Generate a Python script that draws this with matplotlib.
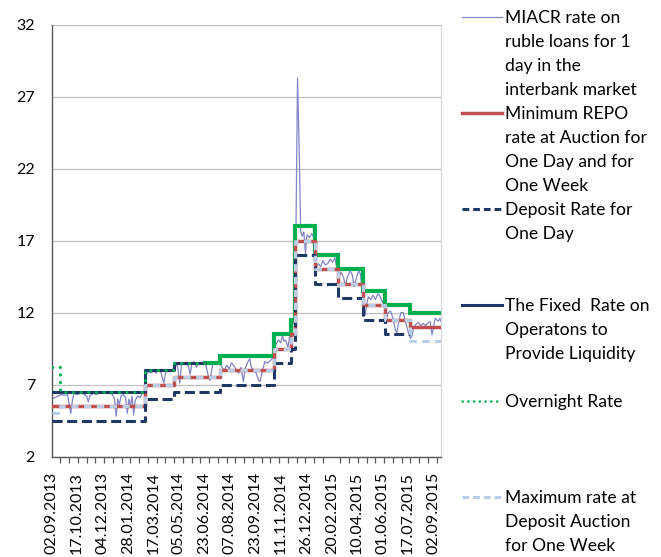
import matplotlib
matplotlib.use("Agg")
import matplotlib.pyplot as plt
from matplotlib.lines import Line2D

# ---------------- data ----------------
# x axis = trading-day index on the category axis
x_tick_labels = ["02.09.2013", "17.10.2013", "04.12.2013", "28.01.2014", "17.03.2014",
                 "05.05.2014", "23.06.2014", "07.08.2014", "23.09.2014", "11.11.2014",
                 "26.12.2014", "20.02.2015", "10.04.2015", "01.06.2015", "17.07.2015",
                 "02.09.2015"]
label_step = 32
minor_step = 11
last_day = 489
y_ticks = [2, 7, 12, 17, 22, 27, 32]

# MIACR (thin line)
miacr_idx = [0, 4, 8, 12, 16, 20, 22, 24, 26, 28, 32, 36, 40, 44, 46, 48, 52, 56, 60, 64, 68, 72,
             76, 79, 81, 83, 85, 87, 90, 93, 95, 97, 99, 101, 103, 105, 108, 111, 114, 117,
             119, 122, 125, 128, 131, 134, 137, 139, 141, 143, 146, 149, 152,
             155, 158, 161, 163, 166, 169, 172, 174, 176, 179, 182, 185, 188, 191, 194, 197,
             199, 202, 205, 208, 211,
             214, 217, 220, 223, 226, 229, 232, 235, 238, 241, 243, 246, 249, 251, 254, 257,
             260, 262, 265, 268, 271, 274, 277,
             280, 282, 285, 288, 290, 292, 294, 297, 299, 301, 303, 305,
             307, 309, 311, 313, 315, 317, 319, 321, 324, 327, 330,
             332, 335, 338, 341, 344, 347, 350, 353, 356, 358,
             361, 364, 367, 369, 372, 375, 378, 380, 383, 386, 388, 390,
             392, 394, 396, 398, 401, 404, 407, 410, 413, 416, 418,
             420, 423, 426, 429, 432, 434, 436, 439, 442, 444, 447, 449, 451,
             453, 455, 458, 461, 464, 467, 470, 473, 476, 478, 480, 482, 484, 486, 488, 489]
miacr_val = [6.0, 6.1, 6.2, 6.3, 6.25, 6.3, 5.6, 5.0, 5.9, 6.4, 6.3, 6.4, 6.35, 6.2, 5.8, 6.2,
             6.4, 6.3, 6.45, 6.4, 6.5, 6.4, 6.35, 6.0, 4.8, 6.0, 5.6, 6.2, 6.3, 6.1, 5.0, 6.0,
             5.5, 6.2, 4.9, 5.9, 6.2, 6.1, 6.4, 6.5,
             7.7, 7.9, 7.8, 7.95, 7.8, 8.0, 7.9, 7.5, 7.1, 7.8, 7.95, 7.9, 8.05,
             8.4, 8.3, 7.1, 8.3, 8.5, 8.4, 8.3, 7.7, 8.4, 8.6, 8.2, 8.5, 8.45, 8.6, 8.3, 7.55,
             7.3, 8.3, 8.5, 8.4, 8.5,
             8.2, 8.0, 8.35, 8.1, 8.5, 8.3, 8.0, 7.8, 8.2, 7.2, 8.1, 8.5, 8.8, 8.2, 8.0, 7.8,
             7.3, 7.2, 8.0, 8.6, 8.5, 8.6, 8.8,
             9.3, 9.8, 10.1, 9.9, 10.4, 10.0, 10.1, 9.6, 10.3, 10.6, 11.2, 11.5,
             17.2, 28.3, 23.6, 17.6, 17.3, 17.6, 16.1, 17.4, 17.2, 17.5, 17.1,
             15.1, 15.4, 15.2, 15.6, 15.3, 15.4, 15.7, 15.5, 15.8, 15.2,
             14.5, 14.8, 14.4, 13.9, 14.5, 14.9, 14.6, 13.8, 14.4, 14.9, 14.7, 13.8,
             12.8, 11.8, 12.6, 13.1, 12.9, 13.2, 12.9, 13.3, 13.1, 12.7, 12.9,
             11.4, 12.0, 12.1, 11.6, 10.8, 10.6, 11.3, 12.0, 12.0, 11.5, 10.9, 10.5, 10.2,
             10.4, 11.0, 11.2, 11.3, 11.1, 11.25, 11.1, 11.3, 11.35, 10.45, 11.0, 11.6, 11.5,
             11.4, 11.6, 11.4]

# Minimum REPO rate (step changes)
repo_idx = [0, 117, 154, 212, 279, 301, 306, 331, 360, 391, 419, 451, 489]
repo_val = [5.5, 7.0, 7.5, 8.0, 9.5, 10.5, 17.0, 15.0, 14.0, 12.5, 11.5, 11.0, 11.0]

# Deposit rate for one day
dep_idx = [0, 117, 154, 212, 279, 301, 306, 331, 360, 391, 419, 451]
dep_val = [4.5, 6.0, 6.5, 7.0, 8.5, 9.5, 16.0, 14.0, 13.0, 11.5, 10.5, 10.5]

# Fixed rate on operations to provide liquidity
fixed_idx = [0, 117, 154, 193]
fixed_val = [6.5, 8.0, 8.5, 8.5]

# Overnight rate
over_idx = [0, 10, 117, 154, 193]
over_val = [8.25, 6.5, 8.0, 8.5, 8.5]

# Upper corridor line (thick green)
upper_idx = [193, 212, 279, 301, 306, 331, 360, 391, 419, 451, 489]
upper_val = [8.5, 9.0, 10.5, 11.5, 18.0, 16.0, 15.0, 13.5, 12.5, 12.0, 12.0]

# Maximum rate at deposit auction for one week
maxdep_idx = [0, 10, 117, 154, 212, 279, 301, 306, 331, 360, 391, 419, 451, 489]
maxdep_val = [5.0, 5.5, 7.0, 7.5, 8.0, 9.5, 10.5, 17.0, 15.0, 14.0, 12.5, 11.5, 10.0, 10.0]

legend_labels = {
    "miacr": ["MIACR rate on", "ruble loans for 1", "day in the", "interbank market"],
    "repo": ["Minimum REPO", "rate at Auction for", "One Day and for", "One Week"],
    "dep": ["Deposit Rate for", "One Day"],
    "fixed": ["The Fixed  Rate on", "Operatons to", "Provide Liquidity"],
    "over": ["Overnight Rate"],
    "maxdep": ["Maximum rate at", "Deposit Auction", "for One Week"],
}

# ---------------- styling ----------------
FONT = ["Lato", "DejaVu Sans"]
plt.rcParams["font.family"] = FONT
FS = 11.5
FS_LEG = 12.6
W, H = 661, 557
fig = plt.figure(figsize=(W / 100, H / 100), dpi=100)
ax_l, ax_r, ax_t, ax_b = 51.7, 440.7, 24.5, 456.6
ax = fig.add_axes([ax_l / W, 1 - ax_b / H, (ax_r - ax_l) / W, (ax_b - ax_t) / H])

C_MIACR = "#8285C6"
C_RED = "#C0504D"
C_NAVY = "#1F3864"
C_GREEN = "#00B050"
C_LBLUE = "#B9CDE5"

ax.plot(miacr_idx, miacr_val, color=C_MIACR, lw=0.9, zorder=2)
ax.step(upper_idx, upper_val, where="post", color=C_GREEN, lw=3.0, zorder=3,
        solid_joinstyle="miter")
ax.step(repo_idx, repo_val, where="post", color=C_RED, lw=2.5, zorder=4)
ax.step(dep_idx, dep_val, where="post", color=C_NAVY, lw=2.2, zorder=5,
        dashes=(3.3, 1.5), dash_capstyle="butt")
ax.step(fixed_idx, fixed_val, where="post", color=C_NAVY, lw=2.2, zorder=6)
ax.step(over_idx, over_val, where="post", color=C_GREEN, lw=2.2, zorder=7,
        linestyle=(0, (0.1, 2.4)), dash_capstyle="round")
ax.step(maxdep_idx, maxdep_val, where="post", color=C_LBLUE, lw=2.2, zorder=8,
        dashes=(2.4, 1.8), dash_capstyle="butt")

ax.set_xlim(0, last_day)
ax.set_ylim(2, 32)
ax.set_yticks(y_ticks)
ax.set_yticklabels([str(v) for v in y_ticks], fontsize=FS)
ax.tick_params(axis="y", length=0, pad=12)
ax.grid(axis="y", color="#BFBFBF", lw=0.9)
ax.set_axisbelow(True)

major = list(range(0, last_day, label_step))
ax.set_xticks(major)
ax.set_xticklabels(x_tick_labels, rotation=90, fontsize=FS, ha="center", va="top")
ax.set_xticks(list(range(0, last_day + 1, minor_step)), minor=True)
ax.tick_params(axis="x", which="major", length=0, pad=11)
ax.tick_params(axis="x", which="minor", length=4, width=0.9, color="#595959", direction="out")

for s in ["left", "bottom"]:
    ax.spines[s].set_color("#595959")
    ax.spines[s].set_linewidth(1.0)
ax.spines["top"].set_visible(False)
ax.spines["right"].set_color("#D9D9D9")
ax.spines["right"].set_linewidth(0.9)

# ---------------- legend (manual, right side) ----------------
pitch = 24.0
y0 = 16.7
entries = [
    ("miacr", 0, dict(color=C_MIACR, lw=0.9)),
    ("repo", 4, dict(color=C_RED, lw=2.5)),
    ("dep", 8, dict(color=C_NAVY, lw=2.2, dashes=(2.2, 1.3))),
    ("fixed", 12, dict(color=C_NAVY, lw=2.2)),
    ("over", 16, dict(color=C_GREEN, lw=1.8, linestyle=(0, (0.1, 2.2)), dash_capstyle="round")),
    ("maxdep", 20, dict(color=C_LBLUE, lw=2.2, dashes=(2.2, 1.3))),
]
hx0, hx1, tx = 462, 502, 505
for key, k, style in entries:
    yc = y0 + pitch * k
    fig.add_artist(Line2D([hx0 / W, hx1 / W], [1 - yc / H, 1 - yc / H], **style))
    for j, line in enumerate(legend_labels[key]):
        yl = y0 + pitch * (k + j)
        fig.text(tx / W, 1 - yl / H, line, fontsize=FS_LEG, ha="left", va="center_baseline",
                 color="#000000")

fig.savefig("out.png", dpi=100)
